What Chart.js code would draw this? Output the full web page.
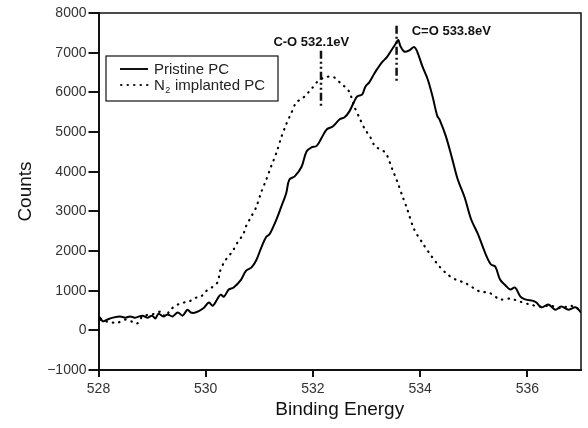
<!DOCTYPE html>
<html>
<head>
<meta charset="utf-8">
<script src="https://cdn.jsdelivr.net/npm/chart.js@4"></script>
<style>
  html, body { margin: 0; padding: 0; background: #fff; }
  #wrap { width: 588px; height: 428px; }
</style>
</head>
<body>
<div id="wrap"><canvas id="xpsChart" width="588" height="428"></canvas></div>
<script>
// binding energy (eV) / counts
const pristineX = [528.00, 528.04, 528.08, 528.13, 528.18, 528.27, 528.40, 528.50, 528.59, 528.68,
  528.82, 528.91, 529.00, 529.06, 529.12, 529.21, 529.29, 529.38, 529.48, 529.57,
  529.66, 529.72, 529.81, 529.95, 530.06, 530.13, 530.23, 530.28, 530.34, 530.43,
  530.52, 530.66, 530.75, 530.85, 530.94, 531.04, 531.13, 531.19, 531.32, 531.41,
  531.50, 531.56, 531.66, 531.79, 531.88, 531.97, 532.07, 532.16, 532.26, 532.37,
  532.50, 532.59, 532.68, 532.77, 532.83, 532.92, 532.98, 533.05, 533.14, 533.20,
  533.29, 533.38, 533.44, 533.54, 533.59, 533.63, 533.70, 533.80, 533.89, 533.95,
  534.04, 534.14, 534.23, 534.32, 534.36, 534.48, 534.60, 534.70, 534.83, 534.95,
  535.08, 535.21, 535.32, 535.40, 535.49, 535.58, 535.68, 535.77, 535.87, 535.96,
  536.15, 536.26, 536.39, 536.52, 536.63, 536.77, 536.90, 537.00];
const pristineY = [350, 300, 230, 250, 280, 320, 350, 320, 350, 320,
  370, 320, 370, 300, 420, 350, 400, 350, 450, 370,
  520, 450, 450, 550, 700, 620, 820, 900, 850, 1030,
  1080, 1280, 1500, 1580, 1760, 2100, 2360, 2420, 2800, 3120,
  3450, 3800, 3880, 4130, 4510, 4610, 4650, 4850, 5070, 5140,
  5320, 5370, 5520, 5770, 5900, 5950, 6150, 6250, 6460, 6590,
  6760, 6890, 7010, 7220, 7320, 7170, 7030, 7060, 7140, 7010,
  6660, 6330, 5900, 5400, 5320, 4890, 4310, 3810, 3350, 2800,
  2420, 1960, 1660, 1610, 1280, 1150, 1030, 1080, 850, 780,
  720, 580, 650, 520, 600, 520, 580, 450];

const n2X = [528.03, 528.16, 528.35, 528.50, 528.62, 528.72, 528.82, 528.97, 529.06, 529.16,
  529.25, 529.34, 529.48, 529.59, 529.68, 529.81, 529.91, 530.00, 530.13, 530.23,
  530.26, 530.34, 530.42, 530.50, 530.59, 530.70, 530.75, 530.85, 530.94, 531.04,
  531.13, 531.22, 531.32, 531.41, 531.50, 531.60, 531.69, 531.79, 531.88, 531.97,
  532.07, 532.22, 532.39, 532.50, 532.67, 532.77, 532.88, 532.97, 533.07, 533.16,
  533.35, 533.48, 533.57, 533.67, 533.76, 533.89, 534.04, 534.19, 534.36, 534.51,
  534.66, 534.83, 534.98, 535.11, 535.30, 535.49, 535.68, 535.87, 536.05, 536.24,
  536.43, 536.62, 536.80, 536.92, 537.00];
const n2Y = [270, 220, 190, 270, 220, 170, 350, 400, 420, 470,
  350, 520, 650, 700, 720, 820, 850, 980, 1100, 1230,
  1460, 1710, 1860, 1990, 2210, 2420, 2620, 2870, 3100, 3500,
  3800, 4130, 4480, 4870, 5190, 5490, 5750, 5830, 5950, 6080,
  6250, 6380, 6380, 6250, 6030, 5650, 5320, 5070, 4870, 4640,
  4480, 4060, 3760, 3380, 3050, 2540, 2210, 1910, 1610, 1410,
  1280, 1200, 1080, 980, 940, 780, 800, 720, 650, 600,
  620, 560, 620, 560, 470];

// peak markers
const peakLabels = ['C-O 532.1eV', 'C=O 533.8eV'];
const peakX = [532.15, 533.56];
const peakLineY = [[7050, 5650], [7680, 6260]];
const peakTextX = [531.97, 534.58];
const peakTextY = [7250, 7530];

const seriesNames = ['Pristine PC', 'N\u2082 implanted PC'];
const xTicks = [528, 530, 532, 534, 536];
const yTicks = [-1000, 0, 1000, 2000, 3000, 4000, 5000, 6000, 7000, 8000];

const toPts = (xs, ys) => xs.map((x, i) => ({ x: x, y: ys[i] }));

const peakSets = peakX.map((x, i) => ({
  label: 'peak' + i,
  data: [{ x: x, y: peakLineY[i][0] }, { x: x, y: peakLineY[i][1] }],
  borderColor: '#111',
  borderWidth: 2.5,
  borderDash: [8, 3, 2, 3, 2, 3],
  pointRadius: 0
}));

// frame (top/right), legend box and peak labels
const extras = {
  id: 'extras',
  afterDraw(chart) {
    const ctx = chart.ctx;
    const a = chart.chartArea;
    const xs = chart.scales.x, ys = chart.scales.y;
    ctx.save();
    ctx.strokeStyle = '#111';
    ctx.lineWidth = 1.5;
    ctx.beginPath();
    ctx.moveTo(a.left, a.top);
    ctx.lineTo(a.right, a.top);
    ctx.lineTo(a.right, a.bottom);
    ctx.stroke();

    // legend
    ctx.fillStyle = '#fff';
    ctx.fillRect(106, 56, 172, 45);
    ctx.lineWidth = 1.2;
    ctx.strokeRect(106, 56, 172, 45);
    ctx.lineWidth = 2;
    ctx.beginPath();
    ctx.moveTo(120, 69); ctx.lineTo(148, 69);
    ctx.stroke();
    ctx.setLineDash([0.5, 6]);
    ctx.lineCap = 'round';
    ctx.beginPath();
    ctx.moveTo(121, 85); ctx.lineTo(148, 85);
    ctx.stroke();
    ctx.setLineDash([]);
    ctx.fillStyle = '#222';
    ctx.font = '15px "Liberation Sans", Arial, sans-serif';
    ctx.textBaseline = 'alphabetic';
    ctx.textAlign = 'left';
    ctx.fillText(seriesNames[0], 154, 74);
    ctx.fillText('N', 154, 90);
    const nw = ctx.measureText('N').width;
    ctx.font = '9px "Liberation Sans", Arial, sans-serif';
    ctx.fillText('2', 154 + nw + 0.5, 93);
    ctx.font = '15px "Liberation Sans", Arial, sans-serif';
    ctx.fillText(seriesNames[1].slice(2), 154 + nw + 6, 90);

    // peak labels
    ctx.fillStyle = '#111';
    ctx.font = 'bold 13px "Liberation Sans", Arial, sans-serif';
    ctx.textAlign = 'center';
    ctx.textBaseline = 'middle';
    peakLabels.forEach((t, i) => {
      ctx.fillText(t, xs.getPixelForValue(peakTextX[i]), ys.getPixelForValue(peakTextY[i]));
    });
    ctx.restore();
  }
};

const ctx = document.getElementById('xpsChart').getContext('2d');
const xpsChart = new Chart(ctx, {
  type: 'line',
  data: {
    datasets: [{
      label: seriesNames[0],
      data: toPts(pristineX, pristineY),
      borderColor: '#000',
      borderWidth: 2,
      pointRadius: 0,
      tension: 0.35
    }, {
      label: seriesNames[1],
      data: toPts(n2X, n2Y),
      borderColor: '#000',
      borderWidth: 2.2,
      borderDash: [0.5, 6],
      borderCapStyle: 'round',
      pointRadius: 0,
      tension: 0.3
    }].concat(peakSets)
  },
  options: {
    responsive: false,
    animation: false,
    layout: { padding: { left: 0, right: 7, top: 13, bottom: 0 } },
    plugins: {
      legend: { display: false },
      tooltip: { enabled: false }
    },
    scales: {
      x: {
        type: 'linear',
        min: 528,
        max: 537,
        afterBuildTicks: (s) => { s.ticks = xTicks.map(v => ({ value: v })); },
        afterFit: (s) => { s.height = 58; },
        border: { color: '#111', width: 2 },
        grid: { drawOnChartArea: false, color: '#111', lineWidth: 2, tickLength: 7 },
        ticks: {
          color: '#333',
          padding: 4,
          maxRotation: 0,
          font: { family: '"Liberation Sans", Arial, sans-serif', size: 14 }
        },
        title: {
          display: true,
          text: 'Binding Energy',
          color: '#111',
          padding: { top: 0, bottom: 7 },
          font: { family: '"Liberation Sans", Arial, sans-serif', size: 19 }
        }
      },
      y: {
        min: -1000,
        max: 8000,
        afterBuildTicks: (s) => { s.ticks = yTicks.map(v => ({ value: v })); },
        afterFit: (s) => { s.width = 98.5; },
        border: { color: '#111', width: 2 },
        grid: { drawOnChartArea: false, color: '#111', lineWidth: 2, tickLength: 10 },
        ticks: {
          color: '#333',
          padding: 2,
          callback: (v) => (v < 0 ? '\u2212' + Math.abs(v) : String(v)),
          font: { family: '"Liberation Sans", Arial, sans-serif', size: 14 }
        },
        title: {
          display: true,
          text: 'Counts',
          color: '#111',
          padding: { top: 14, bottom: 0 },
          font: { family: '"Liberation Sans", Arial, sans-serif', size: 19 }
        }
      }
    }
  },
  plugins: [extras]
});
</script>
</body>
</html>
